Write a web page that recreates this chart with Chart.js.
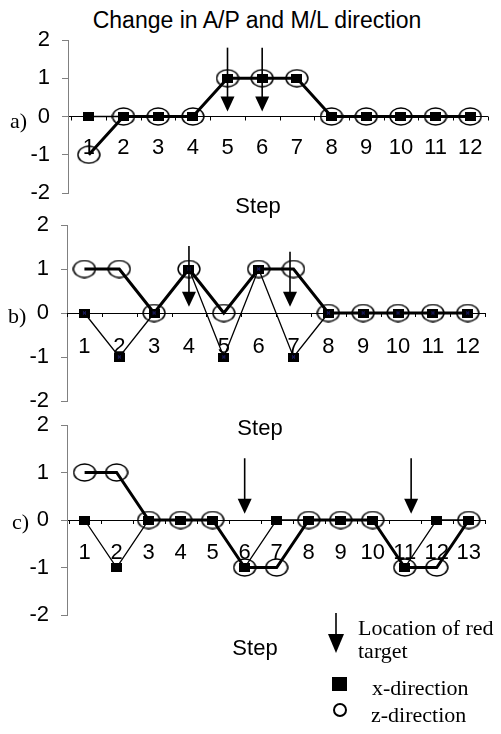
<!DOCTYPE html>
<html>
<head>
<meta charset="utf-8">
<script src="https://cdn.jsdelivr.net/npm/chart.js@4/dist/chart.umd.min.js"></script>
<style>
  html,body{margin:0;padding:0;background:#fff;}
  body{position:relative;width:501px;height:734px;overflow:hidden;}
  canvas{position:absolute;left:0;}
  .t{position:absolute;white-space:nowrap;color:#000;}
  .sans{font-family:"Liberation Sans",Arial,sans-serif;}
  .serif{font-family:"Liberation Serif","Times New Roman",serif;}
</style>
</head>
<body>
<div class="t sans" style="left:57px;width:400px;text-align:center;top:9px;font-size:23px;line-height:23px;">Change in A/P and M/L direction</div>

<canvas id="ca" width="501" height="235" style="top:0px"></canvas>
<canvas id="cb" width="501" height="256" style="top:185px"></canvas>
<canvas id="cc" width="501" height="270" style="top:385px"></canvas>

<div class="t serif" style="left:10px;top:110px;font-size:22px;line-height:22px;">a)</div>
<div class="t serif" style="left:8px;top:305px;font-size:22px;line-height:22px;">b)</div>
<div class="t serif" style="left:12px;top:511px;font-size:22px;line-height:22px;">c)</div>

<div class="t sans" style="left:158px;width:200px;text-align:center;top:195px;font-size:22px;line-height:22px;">Step</div>
<div class="t sans" style="left:160px;width:200px;text-align:center;top:417px;font-size:22px;line-height:22px;">Step</div>
<div class="t sans" style="left:155px;width:200px;text-align:center;top:637px;font-size:22px;line-height:22px;">Step</div>

<!-- legend -->
<svg style="position:absolute;left:326px;top:612px" width="20" height="44">
  <line x1="10" y1="1" x2="10" y2="24" stroke="#000" stroke-width="1.6"/>
  <polygon points="2,22 18,22 10,41" fill="#000"/>
</svg>
<div class="t serif" style="left:358px;top:617px;font-size:22px;line-height:22px;">Location of red</div>
<div class="t serif" style="left:358px;top:640px;font-size:22px;line-height:22px;">target</div>
<div style="position:absolute;left:332px;top:677px;width:15px;height:14px;background:#000;"></div>
<div class="t serif" style="left:372px;top:677px;font-size:22px;line-height:22px;">x-direction</div>
<div style="position:absolute;left:333px;top:703px;width:14px;height:14px;box-sizing:border-box;border:2px solid #000;border-radius:50%;"></div>
<div class="t serif" style="left:371px;top:704px;font-size:22px;line-height:22px;">z-direction</div>

<script>
// ---------------- data ----------------
const stepsA = [1,2,3,4,5,6,7,8,9,10,11,12];
const xDirA  = [0,0,0,0,1,1,1,0,0,0,0,0];
const zDirA  = [-1,0,0,0,1,1,1,0,0,0,0,0];
const targetsA = [5, 6];

const stepsB = [1,2,3,4,5,6,7,8,9,10,11,12];
const xDirB  = [0,-1,0,1,-1,1,-1,0,0,0,0,0];
const zDirB  = [1,1,0,1,0,1,1,0,0,0,0,0];
const targetsB = [4, 6.9];

const stepsC = [1,2,3,4,5,6,7,8,9,10,11,12,13];
const xDirC  = [0,-1,0,0,0,-1,0,0,0,0,-1,0,0];
const zDirC  = [1,1,0,0,0,-1,-1,0,0,0,-1,-1,0];
const targetsC = [6, 11.2];

const yTicks = [-2,-1,0,1,2];

// ---------------- marker images ----------------
function squareImg(w, h, cross) {
  const c = document.createElement('canvas'); c.width = w; c.height = h;
  const g = c.getContext('2d');
  g.fillStyle = '#000'; g.fillRect(0, 0, w, h);
  if (cross) {
    g.strokeStyle = '#2a2aa0'; g.lineWidth = 1;
    g.beginPath();
    g.moveTo(w/2-1.5, h/2-1.5); g.lineTo(w/2+1.5, h/2+1.5);
    g.moveTo(w/2+1.5, h/2-1.5); g.lineTo(w/2-1.5, h/2+1.5);
    g.stroke();
  }
  return c;
}
function ellipseImg(w, h, lw) {
  const c = document.createElement('canvas'); c.width = w; c.height = h;
  const g = c.getContext('2d');
  g.strokeStyle = '#000'; g.lineWidth = lw;
  g.beginPath();
  g.ellipse(w/2, h/2, w/2 - lw/2 - 0.3, h/2 - lw/2 - 0.3, 0, 0, Math.PI*2);
  g.stroke();
  return c;
}
const sq = squareImg(11, 9, false);
const sqB = squareImg(11, 9, true);
const circ = ellipseImg(24, 19, 1.5);

// ---------------- plugins ----------------
const boundaryTicks = {
  id: 'boundaryTicks',
  afterDatasetsDraw(chart) {
    const xs = chart.scales.x, ys = chart.scales.y, ctx = chart.ctx;
    const y0 = ys.getPixelForValue(0);
    ctx.save();
    ctx.strokeStyle = '#000'; ctx.lineWidth = 1;
    ctx.beginPath();
    for (let k = Math.ceil(xs.min - 0.5); k <= xs.max - 0.5 + 1e-6; k++) {
      const v = k + 0.5;
      if (v < xs.min - 1e-6) continue;
      const px = Math.round(xs.getPixelForValue(v)) + 0.5;
      ctx.moveTo(px, y0); ctx.lineTo(px, y0 + 4);
    }
    ctx.stroke();
    ctx.restore();
  }
};
const targetArrows = {
  id: 'targetArrows',
  afterDatasetsDraw(chart, args, o) {
    if (!o || !o.targets) return;
    const xs = chart.scales.x, ys = chart.scales.y, ctx = chart.ctx;
    ctx.save();
    ctx.strokeStyle = '#000'; ctx.fillStyle = '#000'; ctx.lineWidth = 1.6;
    o.targets.forEach((t, i) => {
      const px = xs.getPixelForValue(t);
      const top = ys.getPixelForValue(o.tops[i]);
      const tip = ys.getPixelForValue(o.tip);
      const headH = 15, headW = 14;
      ctx.beginPath();
      ctx.moveTo(px, top); ctx.lineTo(px, tip - headH + 1);
      ctx.stroke();
      ctx.beginPath();
      ctx.moveTo(px - headW/2, tip - headH);
      ctx.lineTo(px + headW/2, tip - headH);
      ctx.lineTo(px, tip);
      ctx.closePath();
      ctx.fill();
    });
    ctx.restore();
  }
};

// ---------------- panel builder ----------------
function makePanel(id, cfg) {
  const canvasTop = cfg.canvasTop, h = cfg.canvasH;
  return new Chart(document.getElementById(id), {
    type: 'line',
    data: {
      datasets: [
        {
          label: 'x-direction',
          data: cfg.steps.map((s, i) => ({x: s, y: cfg.xDir[i]})),
          borderColor: '#000', borderWidth: 1.3,
          pointStyle: cfg.sq, pointRadius: 6, pointHoverRadius: 6,
          tension: 0, fill: false, clip: false
        },
        {
          label: 'z-direction',
          data: cfg.steps.map((s, i) => ({x: s, y: cfg.zDir[i]})),
          borderColor: '#000', borderWidth: 3,
          pointStyle: circ, pointRadius: 10, pointHoverRadius: 10,
          tension: 0, fill: false, clip: false
        }
      ]
    },
    options: {
      responsive: false, animation: false, devicePixelRatio: 1,
      events: [],
      layout: { padding: { left: 0, top: cfg.top - canvasTop, right: 501 - cfg.right, bottom: canvasTop + h - cfg.bottom } },
      plugins: {
        legend: { display: false }, tooltip: { enabled: false }, title: { display: false },
        targetArrows: { targets: cfg.targets, tops: cfg.tops, tip: cfg.tip }
      },
      scales: {
        x: {
          type: 'linear', position: { y: 0 },
          min: cfg.xmin, max: cfg.xmax,
          afterBuildTicks: (s) => { s.ticks = cfg.steps.map(v => ({ value: v })); },
          grid: { drawOnChartArea: false, drawTicks: false },
          border: { display: true, color: '#000', width: 1 },
          ticks: {
            autoSkip: false, maxRotation: 0, minRotation: 0, color: '#000',
            padding: cfg.labelPad,
            font: { family: '"Liberation Sans", Arial, sans-serif', size: 22 }
          }
        },
        y: {
          type: 'linear', position: 'left', min: -2, max: 2,
          afterBuildTicks: (s) => { s.ticks = yTicks.map(v => ({ value: v })); },
          afterFit: (s) => { s.width = cfg.left; },
          grid: { drawOnChartArea: false, drawTicks: true, tickLength: 6, color: '#808080' },
          border: { display: true, color: '#808080', width: 1 },
          ticks: {
            color: '#000', padding: 12,
            font: { family: '"Liberation Sans", Arial, sans-serif', size: 22 }
          }
        }
      }
    },
    plugins: [boundaryTicks, targetArrows]
  });
}

makePanel('ca', { canvasTop: 0, canvasH: 235, top: 40, bottom: 193, left: 68, right: 493,
  xmin: 0.4, xmax: 12.5, steps: stepsA, xDir: xDirA, zDir: zDirA, sq: sq,
  targets: targetsA, tops: [1.8, 1.8], tip: 0.13, labelPad: 18 });
makePanel('cb', { canvasTop: 185, canvasH: 256, top: 225, bottom: 401, left: 67, right: 489,
  xmin: 0.5, xmax: 12.5, steps: stepsB, xDir: xDirB, zDir: zDirB, sq: sqB,
  targets: targetsB, tops: [1.52, 1.39], tip: 0.14, labelPad: 20.5 });
makePanel('cc', { canvasTop: 385, canvasH: 270, top: 425, bottom: 615, left: 67, right: 497,
  xmin: 0.45, xmax: 13.5, steps: stepsC, xDir: xDirC, zDir: zDirC, sq: sq,
  targets: targetsC, tops: [1.3, 1.3], tip: 0.13, labelPad: 19.5 });
</script>
</body>
</html>
